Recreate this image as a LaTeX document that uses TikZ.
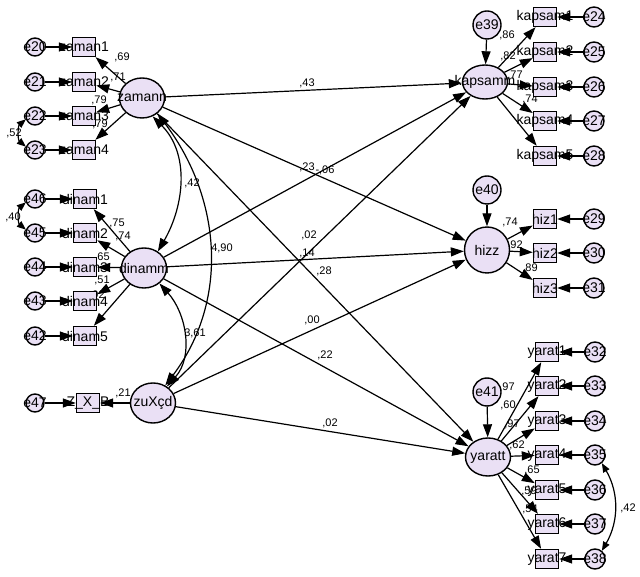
\documentclass[tikz,border=0pt]{standalone}
\usepackage{fontspec}
\setmainfont{Liberation Sans}
\usetikzlibrary{shapes.geometric,arrows.meta}
\definecolor{amos}{RGB}{234,224,245}

\begin{document}
\begin{tikzpicture}[x=1pt, y=1pt, line width=1.2pt, font=\fontsize{14}{15}\selectfont,
  lat/.style = {draw, ellipse, fill=amos, line width=1.4pt, minimum width=45pt, minimum height=40pt, inner sep=0pt},
  obs/.style = {draw, fill=amos, line width=1.4pt, minimum width=23pt, minimum height=19pt, inner sep=0pt},
  err/.style = {draw, circle, fill=amos, line width=1.4pt, minimum size=18pt, inner sep=0pt},
  res/.style = {draw, circle, fill=amos, line width=1.4pt, minimum size=28pt, inner sep=0pt},
  coef/.style = {font=\fontsize{11}{12}\selectfont, inner sep=0pt},
  reg/.style = {-{Triangle[length=13pt,width=9pt]}},
  cov/.style = {{Triangle[length=13pt,width=9pt]}-{Triangle[length=13pt,width=9pt]}},
  ecov/.style = {{Triangle[length=9pt,width=7pt]}-{Triangle[length=9pt,width=7pt]}}]
	\useasboundingbox[fill=white] (0,0) rectangle (640,576);
	% coefficients
	\node[coef] (c1) at (122,519) {,69};
	\node[coef] (c2) at (118,499) {,71};
	\node[coef] (c3) at (99,476) {,79};
	\node[coef] (c4) at (100,452) {,79};
	\node[coef] (c5) at (14,443) {,52};
	\node[coef] (c6) at (13,359) {,40};
	\node[coef] (c7) at (117,353) {,75};
	\node[coef] (c8) at (123,340) {,74};
	\node[coef] (c9) at (102,319) {,65};
	\node[coef] (c10) at (102,296) {,51};
	\node[coef] (c11) at (97,281) {,92};
	\node[coef] (c12) at (123,183) {,21};
	\node[coef] (c13) at (307,493) {,43};
	\node[coef] (c14) at (307,409) {,23};
	\node[coef] (c15) at (325,406) {-,06};
	\node[coef] (c16) at (192,393) {,42};
	\node[coef] (c17) at (222,328) {4,90};
	\node[coef] (c18) at (195,243) {3,61};
	\node[coef] (c19) at (309,341) {,02};
	\node[coef] (c20) at (307,323) {,14};
	\node[coef] (c21) at (324,305) {,28};
	\node[coef] (c22) at (312,256) {,00};
	\node[coef] (c23) at (325,221) {,22};
	\node[coef] (c24) at (330,153) {,02};
	\node[coef] (c25) at (507,541) {,86};
	\node[coef] (c26) at (508,520) {,82};
	\node[coef] (c27) at (515,501) {,77};
	\node[coef] (c28) at (530,477) {,74};
	\node[coef] (c29) at (510,354) {,74};
	\node[coef] (c30) at (515,331) {,92};
	\node[coef] (c31) at (530,308) {,89};
	\node[coef] (c32) at (507,189) {,97};
	\node[coef] (c33) at (508,171) {,60};
	\node[coef] (c34) at (512,152) {,97};
	\node[coef] (c35) at (517,131) {,62};
	\node[coef] (c36) at (532,106) {,65};
	\node[coef] (c37) at (529,85) {,59};
	\node[coef] (c38) at (530,67) {,54};
	\node[coef] (c39) at (628,68) {,42};
	% latent variables
	\node[lat, label=center:zamann] (zamann) at (142,478) {};
	\node[lat, label=center:dinamm] (dinamm) at (144,308) {};
	\node[lat, label=center:zuXçd] (zucd) at (153,173) {};
	\node[lat, minimum height=34pt, label=center:kapsamm] (kapsamm) at (485,494) {};
	\node[lat, minimum height=46pt, label=center:hizz] (hizz) at (487,326) {};
	\node[lat, minimum height=38pt, label=center:yaratt] (yaratt) at (488,119) {};
	\node[res, label=center:e39] (e39) at (487,551) {};
	\node[res, label=center:e40] (e40) at (487,386) {};
	\node[res, label=center:e41] (e41) at (487,184) {};
	% left indicators
	\node[obs, label=center:zaman1] (z1) at (84,529) {};
	\node[obs, label=center:zaman2] (z2) at (84,494) {};
	\node[obs, label=center:zaman3] (z3) at (84,460) {};
	\node[obs, label=center:zaman4] (z4) at (84,426) {};
	\node[obs, label=center:dinam1] (d1) at (85,377) {};
	\node[obs, label=center:dinam2] (d2) at (85,343) {};
	\node[obs, label=center:dinam3] (d3) at (85,309) {};
	\node[obs, label=center:dinam4] (d4) at (85,275) {};
	\node[obs, label=center:dinam5] (d5) at (85,240) {};
	\node[obs, label=center:Z\_X\_B] (zxb) at (88,173) {};
	\node[err, label=center:e20] (e20) at (35,529) {};
	\node[err, label=center:e21] (e21) at (35,494) {};
	\node[err, label=center:e22] (e22) at (35,460) {};
	\node[err, label=center:e23] (e23) at (35,426) {};
	\node[err, label=center:e46] (e46) at (35,377) {};
	\node[err, label=center:e45] (e45) at (35,343) {};
	\node[err, label=center:e44] (e44) at (35,309) {};
	\node[err, label=center:e43] (e43) at (35,275) {};
	\node[err, label=center:e42] (e42) at (35,240) {};
	\node[err, label=center:e47] (e47) at (35,173) {};
	% right indicators
	\node[obs, label=center:kapsam1] (k1) at (545,559) {};
	\node[obs, label=center:kapsam2] (k2) at (545,524) {};
	\node[obs, label=center:kapsam3] (k3) at (545,489) {};
	\node[obs, label=center:kapsam4] (k4) at (545,455) {};
	\node[obs, label=center:kapsam5] (k5) at (545,420) {};
	\node[obs, label=center:hiz1] (h1) at (545,357) {};
	\node[obs, label=center:hiz2] (h2) at (545,323) {};
	\node[obs, label=center:hiz3] (h3) at (545,288) {};
	\node[obs, label=center:yarat1] (y1) at (547,224) {};
	\node[obs, label=center:yarat2] (y2) at (547,190) {};
	\node[obs, label=center:yarat3] (y3) at (547,155) {};
	\node[obs, label=center:yarat4] (y4) at (547,121) {};
	\node[obs, label=center:yarat5] (y5) at (547,86) {};
	\node[obs, label=center:yarat6] (y6) at (547,52) {};
	\node[obs, label=center:yarat7] (y7) at (547,17) {};
	\node[err, minimum size=20pt, label=center:e24] (e24) at (594,559) {};
	\node[err, minimum size=20pt, label=center:e25] (e25) at (594,524) {};
	\node[err, minimum size=20pt, label=center:e26] (e26) at (594,489) {};
	\node[err, minimum size=20pt, label=center:e27] (e27) at (594,455) {};
	\node[err, minimum size=20pt, label=center:e28] (e28) at (594,420) {};
	\node[err, minimum size=20pt, label=center:e29] (e29) at (594,357) {};
	\node[err, minimum size=20pt, label=center:e30] (e30) at (594,323) {};
	\node[err, minimum size=20pt, label=center:e31] (e31) at (594,288) {};
	\node[err, minimum size=20pt, label=center:e32] (e32) at (595,224) {};
	\node[err, minimum size=20pt, label=center:e33] (e33) at (595,190) {};
	\node[err, minimum size=20pt, label=center:e34] (e34) at (595,155) {};
	\node[err, minimum size=20pt, label=center:e35] (e35) at (595,121) {};
	\node[err, minimum size=20pt, label=center:e36] (e36) at (595,86) {};
	\node[err, minimum size=20pt, label=center:e37] (e37) at (595,52) {};
	\node[err, minimum size=20pt, label=center:e38] (e38) at (595,17) {};
	% loadings
	\draw[reg] (zamann) -- (z1);
	\draw[reg] (zamann) -- (z2);
	\draw[reg] (zamann) -- (z3);
	\draw[reg] (zamann) -- (z4);
	\draw[reg] (dinamm) -- (d1);
	\draw[reg] (dinamm) -- (d2);
	\draw[reg] (dinamm) -- (d3);
	\draw[reg] (dinamm) -- (d4);
	\draw[reg] (dinamm) -- (d5);
	\draw[reg] (zucd) -- (zxb);
	\draw[reg] (kapsamm) -- (k1);
	\draw[reg] (kapsamm) -- (k2);
	\draw[reg] (kapsamm) -- (k3);
	\draw[reg] (kapsamm) -- (k4);
	\draw[reg] (kapsamm) -- (k5);
	\draw[reg] (hizz) -- (h1);
	\draw[reg] (hizz) -- (h2);
	\draw[reg] (hizz) -- (h3);
	\draw[reg] (yaratt) -- (y1);
	\draw[reg] (yaratt) -- (y2);
	\draw[reg] (yaratt) -- (y3);
	\draw[reg] (yaratt) -- (y4);
	\draw[reg] (yaratt) -- (y5);
	\draw[reg] (yaratt) -- (y6);
	\draw[reg] (yaratt) -- (y7);
	% error terms
	\draw[reg] (e20) -- (z1);
	\draw[reg] (e21) -- (z2);
	\draw[reg] (e22) -- (z3);
	\draw[reg] (e23) -- (z4);
	\draw[reg] (e46) -- (d1);
	\draw[reg] (e45) -- (d2);
	\draw[reg] (e44) -- (d3);
	\draw[reg] (e43) -- (d4);
	\draw[reg] (e42) -- (d5);
	\draw[reg] (e47) -- (zxb);
	\draw[reg] (e24) -- (k1);
	\draw[reg] (e25) -- (k2);
	\draw[reg] (e26) -- (k3);
	\draw[reg] (e27) -- (k4);
	\draw[reg] (e28) -- (k5);
	\draw[reg] (e29) -- (h1);
	\draw[reg] (e30) -- (h2);
	\draw[reg] (e31) -- (h3);
	\draw[reg] (e32) -- (y1);
	\draw[reg] (e33) -- (y2);
	\draw[reg] (e34) -- (y3);
	\draw[reg] (e35) -- (y4);
	\draw[reg] (e36) -- (y5);
	\draw[reg] (e37) -- (y6);
	\draw[reg] (e38) -- (y7);
	\draw[reg] (e39) -- (kapsamm);
	\draw[reg] (e40) -- (hizz);
	\draw[reg] (e41) -- (yaratt);
	% structural paths
	\draw[reg] (zamann) -- (kapsamm);
	\draw[reg] (zamann) -- (hizz);
	\draw[reg] (zamann) -- (yaratt);
	\draw[reg] (dinamm) -- (kapsamm);
	\draw[reg] (dinamm) -- (hizz);
	\draw[reg] (dinamm) -- (yaratt);
	\draw[reg] (zucd) -- (kapsamm);
	\draw[reg] (zucd) -- (hizz);
	\draw[reg] (zucd) -- (yaratt);
	% covariances
	\draw[cov] (zamann.-60) to[out=-45, in=60] (dinamm.50);
	\draw[cov] (zamann.-45) to[out=-53, in=53] (zucd.55);
	\draw[cov] (dinamm.-45) to[out=-48, in=48] (zucd.50);
	\draw[ecov] (e22.200) to[bend right=50] (e23.160);
	\draw[ecov] (e46.200) to[bend right=50] (e45.160);
	\draw[ecov] (e35.-50) to[bend left=30] (e38.50);
\end{tikzpicture}
\end{document}
